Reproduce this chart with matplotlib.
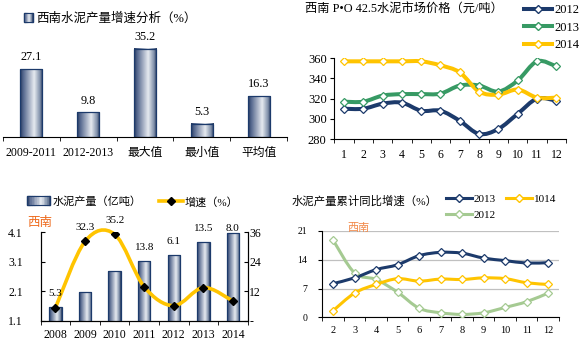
import numpy as np
import matplotlib
matplotlib.use('Agg')
import matplotlib.pyplot as plt
from matplotlib.path import Path
from matplotlib.patches import PathPatch, Rectangle
from matplotlib.lines import Line2D
from matplotlib.colors import LinearSegmentedColormap

plt.rcParams['font.family'] = ['Liberation Serif', 'Noto Sans CJK SC']

# ---- data ----
growth_cats = ['2009-2011', '2012-2013', '最大值', '最小值', '平均值']
growth_vals = [27.1, 9.8, 35.2, 5.3, 16.3]

months = list(range(1, 13))
price_2012 = [310, 310, 315, 316, 308, 308, 298, 285, 290, 305, 320, 318]
price_2013 = [317, 317, 323, 324.5, 324.5, 325, 333, 333, 327, 338, 357, 352]
price_2014 = [357, 357, 357, 357, 357, 353, 346, 327, 324, 329, 321, 321]

years = ['2008', '2009', '2010', '2011', '2012', '2013', '2014']
output = [1.55, 2.06, 2.78, 3.11, 3.33, 3.76, 4.08]
speed = [5.3, 32.3, 35.2, 13.8, 6.1, 13.5, 8.0]

cum_months = list(range(2, 13))
cum_2013 = [8.2, 9.6, 11.6, 12.8, 15.0, 15.8, 15.6, 14.4, 13.8, 13.2, 13.3]
cum_1014 = [1.6, 5.9, 8.0, 9.4, 8.8, 9.3, 9.2, 9.6, 9.4, 8.4, 8.0]
cum_2012 = [18.8, 10.8, 9.2, 6.1, 2.2, 1.1, 0.7, 1.1, 2.4, 3.8, 5.9]

navy = '#1C3A6B'
green = '#379A64'
yellow = '#FFC400'
lgreen = '#A5CA92'
orange = '#EE6A1C'

W, H = 581, 343
fig = plt.figure(figsize=(W / 100, H / 100), dpi=100)


def box(l, r, b, t):
    return [l / W, 1 - b / H, (r - l) / W, (b - t) / H]


bar_cmap = LinearSegmentedColormap.from_list(
    'bar', [(0, '#24375C'), (0.12, '#50638A'), (0.62, '#E6EAF0'),
            (0.88, '#8090AA'), (1, '#24375C')])
grad = np.linspace(0, 1, 64).reshape(1, -1)


def gradient_bars(ax, bars, ymin):
    # fill each bar with a horizontal gradient, kept inside the axes
    for b in bars:
        x0 = b.get_x()
        y0 = max(b.get_y(), ymin)
        y1 = b.get_y() + b.get_height()
        ax.imshow(grad, cmap=bar_cmap, aspect='auto', zorder=1.5,
                  extent=(x0, x0 + b.get_width(), y0, y1))


class GradHandler:
    def legend_artist(self, legend, orig_handle, fontsize, handlebox):
        x0, y0 = handlebox.xdescent, handlebox.ydescent
        w, h = handlebox.width, handlebox.height
        n = 14
        for k in range(n):
            handlebox.add_artist(Rectangle((x0 + k * w / n, y0), w / n, h,
                                           color=bar_cmap((k + 0.5) / n),
                                           transform=handlebox.get_transform()))
        r = Rectangle((x0, y0), w, h, fill=False, edgecolor=navy, lw=0.8,
                      transform=handlebox.get_transform())
        handlebox.add_artist(r)
        return r


class GradKey:
    pass


def smooth(ax, x, y, color, lw, clip=True, z=3):
    # Excel-like smoothed line: cubic bezier through the data points
    x = np.asarray(x, float)
    y = np.asarray(y, float)
    n = len(x)
    verts = [(x[0], y[0])]
    codes = [Path.MOVETO]
    for i in range(n - 1):
        a = i - 1 if i > 0 else i
        d = i + 2 if i + 2 < n else i + 1
        verts.append((x[i] + (x[i + 1] - x[a]) / 6, y[i] + (y[i + 1] - y[a]) / 6))
        verts.append((x[i + 1] - (x[d] - x[i]) / 6, y[i + 1] - (y[d] - y[i]) / 6))
        verts.append((x[i + 1], y[i + 1]))
        codes += [Path.CURVE4] * 3
    ax.add_patch(PathPatch(Path(verts, codes), fill=False, edgecolor=color,
                           lw=lw, capstyle='round', joinstyle='round',
                           clip_on=clip, zorder=z))


# ---- panel 1: growth analysis bars ----
ax1 = fig.add_axes(box(3, 287, 137, 37))
xs = np.arange(len(growth_vals))
bars = ax1.bar(xs, growth_vals, width=0.39, facecolor='none', edgecolor=navy,
               lw=0.9, zorder=2)
gradient_bars(ax1, bars, 0)
for x, v in zip(xs, growth_vals):
    ax1.annotate(f'{v:.1f}', (x, v), xytext=(0, 8.5), textcoords='offset points',
                 ha='center', va='center', fontsize=8.8)
ax1.set_xlim(-0.5, 4.5)
ax1.set_ylim(0, 40)
ax1.set_xticks(xs)
ax1.set_xticklabels(growth_cats, fontsize=8.5)
ax1.set_xticks(np.arange(-0.5, 5, 1), minor=True)
ax1.tick_params(axis='x', which='major', length=0, pad=7)
ax1.tick_params(axis='x', which='minor', length=3, direction='out')
ax1.set_yticks([])
for s in ['left', 'right', 'top']:
    ax1.spines[s].set_visible(False)
ax1.patch.set_alpha(0)
ax1.legend([GradKey()], ['西南水泥产量增速分析（%）'], handler_map={GradKey: GradHandler()},
           loc='center left', bbox_to_anchor=(24 / W, 1 - 19 / H),
           bbox_transform=fig.transFigure, frameon=False, fontsize=9,
           handlelength=0.7, handleheight=0.7, handletextpad=0.3,
           borderpad=0, borderaxespad=0)

# ---- panel 2: price lines ----
ax2 = fig.add_axes(box(334.3, 566, 139, 58.3))
for vals, c in [(price_2012, navy), (price_2013, green), (price_2014, yellow)]:
    smooth(ax2, months, vals, c, 2.9)
    ax2.plot(months, vals, ls='none', marker='D', ms=4, mfc='white', mec=c,
             mew=0.9, zorder=4)
ax2.set_xlim(0.5, 12.5)
ax2.set_ylim(280, 360)
ax2.set_yticks(range(280, 361, 20))
ax2.set_xticks(months)
ax2.set_xticks(np.arange(0.5, 13, 1), minor=True)
ax2.tick_params(axis='x', which='major', length=0, pad=7, labelsize=8.5)
ax2.tick_params(axis='x', which='minor', length=3, direction='out')
ax2.tick_params(axis='y', length=3, direction='out', pad=2.5, labelsize=9)
ax2.spines['top'].set_visible(False)
ax2.spines['right'].set_visible(False)
ax2.patch.set_alpha(0)
h2 = [Line2D([], [], color=c, lw=2.9, marker='D', ms=4, mfc='white', mec=c)
      for c in (navy, green, yellow)]
ax2.legend(h2, ['2012', '2013', '2014'], loc='upper left',
           bbox_to_anchor=(524 / W, 1 - 4 / H), bbox_transform=fig.transFigure,
           frameon=False, fontsize=9, handlelength=2.2, handletextpad=0.2,
           labelspacing=0.45, borderpad=0, borderaxespad=0)
fig.text(305 / W, 1 - 9 / H, '西南 P•O 42.5水泥市场价格（元/吨）', fontsize=8.8,
         va='center', ha='left')

# ---- panel 3: output bars + growth line ----
ax3 = fig.add_axes(box(40.7, 247.7, 320.7, 232.3))
ys = np.arange(len(years))
bars3 = ax3.bar(ys, output, width=0.42, facecolor='none', edgecolor=navy,
                lw=0.9, zorder=2)
gradient_bars(ax3, bars3, 1.1)
ax3.set_xlim(-0.5, 6.5)
ax3.set_ylim(1.1, 4.1)
ax3.set_yticks([1.1, 2.1, 3.1, 4.1])
ax3.set_yticklabels(['1.1', '2.1', '3.1', '4.1'])
ax3.set_xticks(ys)
ax3.set_xticklabels(years)
ax3.set_xticks(np.arange(-0.5, 7, 1), minor=True)
ax3.tick_params(axis='x', which='major', length=0, pad=6, labelsize=8.5)
ax3.tick_params(axis='x', which='minor', length=3, direction='out')
ax3.tick_params(axis='y', length=3, direction='in', pad=13, labelsize=8.5)
ax3.spines['top'].set_visible(False)
ax3.patch.set_alpha(0)

ax3b = ax3.twinx()
smooth(ax3b, ys, speed, yellow, 2.6, clip=False)
ax3b.plot(ys, speed, ls='none', marker='D', ms=4, color='black', zorder=4)
ax3b.set_ylim(0, 36)
ax3b.set_yticks([0, 12, 24, 36])
ax3b.set_yticklabels(['-', '12', '24', '36'])
ax3b.tick_params(axis='y', length=3, direction='in', pad=1, labelsize=8.5)
ax3b.spines['top'].set_visible(False)
for i, v in enumerate(speed):
    top = (output[i] - 1.1) * 12
    ly = max(v + 5.5, min(top + 5.5, 37.4))
    ax3b.text(i, ly, f'{v:.1f}', ha='center', va='center', fontsize=8)

ax3.legend([GradKey(), Line2D([], [], color=yellow, lw=2.6, marker='D', ms=4,
                              mfc='black', mec='black')],
           ['水泥产量（亿吨）', '增速（%）'], handler_map={GradKey: GradHandler()},
           loc='center left', bbox_to_anchor=(27 / W, 1 - 202 / H),
           bbox_transform=fig.transFigure, frameon=False, fontsize=8, ncol=2,
           handlelength=2.1, handleheight=0.8, handletextpad=0.2,
           columnspacing=1.6, borderpad=0, borderaxespad=0)
fig.text(27 / W, 1 - 222 / H, '西南', color=orange, fontsize=9, va='center',
         ha='left', family='Noto Sans CJK SC')

# ---- panel 4: cumulative growth ----
ax4 = fig.add_axes(box(322.3, 559, 317.3, 231))
for vals, c in [(cum_2012, lgreen), (cum_1014, yellow), (cum_2013, navy)]:
    smooth(ax4, cum_months, vals, c, 2.2)
    ax4.plot(cum_months, vals, ls='none', marker='D', ms=4, mfc='white', mec=c,
             mew=0.9, zorder=4)
ax4.set_xlim(1.5, 12.5)
ax4.set_ylim(0, 21)
ax4.set_yticks([0, 7, 14, 21])
ax4.set_xticks(cum_months)
ax4.set_xticks(np.arange(1.5, 13, 1), minor=True)
ax4.yaxis.grid(True, color='#C0C0C0', lw=0.9)
ax4.set_axisbelow(True)
ax4.tick_params(axis='x', which='major', length=0, pad=6, labelsize=7.5)
ax4.tick_params(axis='x', which='minor', length=3, direction='out')
ax4.tick_params(axis='y', length=3, direction='out', pad=8, labelsize=7)
ax4.spines['top'].set_visible(False)
ax4.spines['right'].set_visible(False)
ax4.patch.set_alpha(0)
h4 = {c: Line2D([], [], color=c, lw=2.2, marker='D', ms=4, mfc='white', mec=c)
      for c in (navy, yellow, lgreen)}
ax4.legend([h4[navy], h4[lgreen], h4[yellow]], ['2013', '2012', '1014'],
           loc='upper left', bbox_to_anchor=(446 / W, 1 - 194 / H),
           bbox_transform=fig.transFigure, frameon=False, fontsize=8, ncol=2,
           handlelength=2.3, handletextpad=0.15, labelspacing=0.55,
           columnspacing=1.0, borderpad=0, borderaxespad=0)
fig.text(292 / W, 1 - 201 / H, '水泥产量累计同比增速（%）', fontsize=8.2,
         va='center', ha='left')
fig.text(347 / W, 1 - 228 / H, '西南', color='#F28A4A', fontsize=8, va='center',
         ha='left', family='Noto Sans CJK SC')

fig.savefig('out.png', dpi=100)
